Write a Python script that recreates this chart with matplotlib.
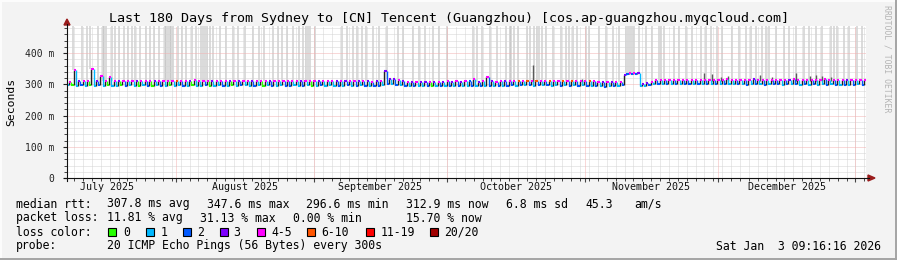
import numpy as np
import matplotlib
matplotlib.use("Agg")
import matplotlib.pyplot as plt
import matplotlib.transforms as mtrans
from matplotlib.collections import LineCollection
from matplotlib.patches import Rectangle, Polygon
from matplotlib.lines import Line2D
from datetime import datetime

W, H = 897, 260
start = datetime(2025, 7, 7, 9, 16, 16)   # 180 days before the stamp
n_days = 180

# median rtt per day (ms): low point and high point of each daily swing
med_lo = [297, 298, 296, 297, 295, 297, 296, 297, 296, 297,
          296, 295, 297, 296, 297, 295, 296, 297, 296, 295,
          297, 296, 295, 297, 296, 297, 296, 295, 297, 296,
          296, 297, 295, 296, 297, 296, 295, 297, 296, 297,
          297, 296, 295, 297, 296, 297, 296, 295, 297, 296,
          296, 297, 295, 296, 297, 296, 295, 297, 296, 297,
          296, 295, 296, 297, 295, 296, 297, 295, 296, 295,
          296, 297, 301, 300, 299, 297, 295, 294, 293, 294,
          293, 294, 295, 294, 293, 295, 296, 295, 294, 296,
          295, 296, 294, 295, 296, 295, 294, 296, 295, 296,
          297, 296, 297, 298, 297, 296, 297, 298, 297, 296,
          297, 296, 297, 296, 297, 296, 297, 296, 295, 294,
          293, 292, 294, 293, 295, 297, 333, 334, 333, 293,
          294, 297, 300, 300, 300, 301, 300, 301, 300, 301,
          300, 301, 300, 301, 300, 301, 300, 301, 300, 301,
          300, 301, 300, 299, 300, 301, 300, 299, 300, 301,
          300, 299, 300, 301, 300, 299, 300, 299, 300, 299,
          300, 299, 300, 299, 298, 299, 298, 299, 300, 299]
med_hi = [308, 345, 310, 309, 310, 349, 310, 326, 309, 323,
          310, 309, 311, 310, 309, 311, 310, 309, 310, 311,
          310, 311, 310, 309, 311, 310, 310, 311, 313, 310,
          310, 309, 311, 310, 310, 311, 309, 310, 311, 310,
          310, 311, 310, 309, 311, 310, 310, 311, 309, 310,
          311, 310, 310, 311, 309, 310, 311, 310, 310, 309,
          310, 309, 310, 309, 310, 309, 310, 309, 308, 309,
          309, 343, 316, 317, 315, 312, 308, 307, 307, 308,
          307, 308, 308, 307, 308, 309, 308, 309, 308, 309,
          309, 318, 308, 309, 322, 309, 308, 309, 310, 309,
          310, 311, 310, 311, 310, 311, 310, 311, 310, 311,
          310, 311, 310, 311, 310, 311, 310, 311, 309, 308,
          307, 306, 307, 308, 308, 330, 337, 337, 336, 300,
          304, 308, 313, 314, 315, 314, 315, 314, 315, 315,
          315, 314, 315, 315, 314, 315, 314, 315, 316, 315,
          315, 315, 314, 315, 316, 315, 314, 315, 314, 315,
          315, 314, 315, 316, 315, 314, 315, 314, 315, 314,
          316, 315, 314, 315, 314, 313, 314, 313, 314, 315]

# loss class per day (index into loss_colors) for low and high points
loss_lo = ("1012101210" "1102110120" "1210112101" "1201121012" "1121012112"
           "2112101211" "1212121212" "2121212121" "1201212121" "1212121212"
           "2121212121" "1212121212" "1212122221" "1212121212" "2121212121"
           "1212121212" "2121212121" "1212121212")
loss_hi = ("4434443444" "4344434443" "4444544344" "4434443434" "4344434444"
           "4434443444" "3434434343" "4333434343" "3434343434" "2434434434"
           "4545454454" "4545444544" "3434434433" "3444444444" "4444444444"
           "4444344444" "4434444444" "4444434444")

# days with smoke reaching above the chart
smoke_days = [1.3, 3.3, 4.6, 5.2, 6.9, 8.1, 8.4, 8.8, 10.1, 10.8, 11.7, 12.8,
              13.7, 14.6, 15.3, 16.4, 17.9, 18.8, 19.6, 20.7, 22.0, 22.4, 22.7,
              23.1, 23.4, 23.9, 25.0, 26.0, 26.9, 28.1, 29.0, 30.2, 30.6, 31.1,
              31.5, 32.2, 32.9, 34.4, 35.9, 37.4, 38.6, 40.1, 41.9, 43.2, 44.3,
              46.3, 47.5, 48.5, 49.5, 50.9, 52.2, 53.1, 53.8, 54.2, 54.7, 55.8,
              61.9, 63.0, 64.4, 65.3, 66.4, 67.3, 68.9, 70.4, 72.2, 74.5, 75.8,
              77.9, 79.4, 80.6, 82.4, 83.9, 85.5, 91.4, 92.3, 93.6, 95.2, 96.8,
              99.0, 99.7, 100.1, 100.8, 101.5, 103.7, 104.2, 105.3, 105.8,
              106.4, 107.1, 108.0, 109.4, 111.4, 112.5, 113.2, 113.9, 115.0,
              117.0, 117.7, 119.9, 121.5, 122.9, 124.4, 126.0, 126.4, 126.9,
              127.3, 127.8, 128.9, 130.5, 131.9, 133.4, 133.9, 134.6, 136.8,
              137.9, 139.5, 140.9, 142.9, 144.0, 145.1, 146.5, 147.6, 149.9,
              151.4, 153.0, 154.1, 155.3, 156.6, 157.5, 158.2, 159.8, 161.6,
              162.7, 164.3, 166.1, 167.2, 168.8, 170.1, 172.1, 172.8, 173.5,
              175.1, 176.2, 178.0, 179.1]
# darker smoke spikes: day and top (ms)
dark_days = [104.9, 116.1, 143.6, 145.2, 147.4, 148.8, 156.2, 158.9, 164.3,
             167.3, 168.8, 170.0, 172.1]
dark_top = [362, 318, 337, 334, 322, 325, 330, 324, 337, 326, 330, 327, 322]

loss_colors = ['#26ff00', '#00b8ff', '#0059ff', '#7e00ff', '#ff00ff',
               '#ff5500', '#ff0000', '#a10000']
loss_labels = ['0', '1', '2', '3', '4-5', '6-10', '11-19', '20/20']

mono = 'DejaVu Sans Mono'


def fx(x):
    return x / W


def fy(y):
    return 1 - y / H


def day_of(dt):
    return (dt - start).total_seconds() / 86400.0


fig = plt.figure(figsize=(W / 100, H / 100), dpi=100, facecolor='#f3f3f3')
ax = fig.add_axes([fx(67), fy(178), 799 / W, 152 / H])
ax.set_facecolor('white')
ax.set_xlim(0, n_days)
ax.set_ylim(0, 486.4)
for s in ax.spines.values():
    s.set_visible(False)

# grid
minor_c, major_c = '#d4d4d4', '#f2b2b2'
for v in range(20, 481, 20):
    if v % 100:
        ax.axhline(v, color=minor_c, lw=0.72, ls=(0, (1, 1)), zorder=3)
for v in range(100, 401, 100):
    ax.axhline(v, color=major_c, lw=0.72, ls=(0, (1, 1)), zorder=3.1)
epoch = datetime(1970, 1, 1)
first = datetime(2025, 7, 8)
if (first - epoch).days % 2:
    first = datetime(2025, 7, 9)
d = day_of(first)
minor_x = []
while d < n_days:
    minor_x.append(d)
    ax.axvline(d, color=minor_c, lw=0.72, ls=(0, (1, 1)), zorder=3)
    d += 2
month_starts = [datetime(2025, m, 1) for m in range(8, 13)] + [datetime(2026, 1, 1)]
for m in month_starts:
    ax.axvline(day_of(m), color=major_c, lw=0.72, ls=(0, (1, 1)), zorder=3.1)

# smoke
days = np.arange(n_days)
lo = np.array(med_lo, float)
hi = np.array(med_hi, float)
smoke_base = [hi[min(int(s), n_days - 1)] for s in smoke_days]
ax.vlines(smoke_days, smoke_base, 500, color='#b8b8b8', alpha=0.55,
          lw=1.3, zorder=2)
dark_base = [hi[min(int(s), n_days - 1)] - 4 for s in dark_days]
ax.vlines(dark_days, dark_base, dark_top, color='#5a5a5a', lw=1.0, zorder=4)

# median line
segs, cols = [], []
for i in days:
    segs.append([(i, lo[i]), (i + 0.5, lo[i])])
    cols.append(loss_colors[int(loss_lo[i])])
    segs.append([(i + 0.5, hi[i]), (i + 1, hi[i])])
    cols.append(loss_colors[int(loss_hi[i])])
ax.add_collection(LineCollection(segs, colors=cols, linewidths=1.5,
                                 capstyle='butt', zorder=6))
ax.vlines(days + 0.5, lo, hi, color='#222222', lw=1.0, zorder=5)
ax.vlines(days[1:], hi[:-1], lo[1:],
          color=[loss_colors[int(c)] for c in loss_lo[1:]], lw=1.0, zorder=5)

# ticks
ax.set_yticks(range(0, 401, 100))
ax.set_yticklabels(['0', '100 m', '200 m', '300 m', '400 m'])
ax.set_yticks(range(20, 481, 20), minor=True)
ax.set_xticks([day_of(m) for m in month_starts])
ax.set_xticklabels([])
ax.set_xticks(minor_x, minor=True)
ax.tick_params(axis='y', which='major', length=3, width=0.8, pad=6,
               labelsize=7, colors='#222222')
ax.tick_params(axis='y', which='minor', length=2, width=0.7, colors='#444444')
ax.tick_params(axis='x', which='major', length=3, width=0.8, colors='#444444')
ax.tick_params(axis='x', which='minor', length=2, width=0.7, colors='#444444')
for t in ax.get_yticklabels():
    t.set_fontfamily(mono)

months = [datetime(2025, m, 1) for m in range(7, 13)] + [datetime(2026, 1, 1)]
names = ['July 2025', 'August 2025', 'September 2025', 'October 2025',
         'November 2025', 'December 2025']
blend = mtrans.blended_transform_factory(ax.transData, fig.transFigure)
for k, nm in enumerate(names):
    mid = (day_of(months[k]) + day_of(months[k + 1])) / 2
    ax.text(mid, fy(187), nm, transform=blend, ha='center', va='center',
            fontsize=7.2, family=mono, color='#111111')

# axes with arrows
fig.add_artist(Line2D([fx(67), fx(67)], [fy(181), fy(24)], color='#111111', lw=0.8))
fig.add_artist(Line2D([fx(64), fx(869)], [fy(178), fy(178)], color='#111111', lw=0.8))
fig.add_artist(Polygon([(fx(64), fy(25)), (fx(70), fy(25)), (fx(67), fy(19))],
                       closed=True, color='#9a1c1c'))
fig.add_artist(Polygon([(fx(868), fy(175)), (fx(868), fy(181)), (fx(875), fy(178))],
                       closed=True, color='#9a1c1c'))

# titles
fig.text(0.5, fy(18.5), 'Last 180 Days from Sydney to [CN] Tencent (Guangzhou) '
         '[cos.ap-guangzhou.myqcloud.com]', ha='center', va='center',
         fontsize=9.6, family=mono)
fig.text(fx(11), fy(102), 'Seconds', rotation=90, ha='center', va='center',
         fontsize=8.2, family=mono)
fig.text(fx(887), fy(5), 'RRDTOOL / TOBI OETIKER', rotation=270, ha='center',
         va='top', fontsize=5.9, family=mono, color='#b4b4b4')

# legend rows
fs = 8.3
row1 = [(16, 'median rtt:'), (107, '307.8 ms avg'), (207, '347.6 ms max'),
        (307, '296.6 ms min'), (406, '312.9 ms now'), (506, '6.8 ms sd'),
        (586, '45.3'), (635, 'am/s')]
row2 = [(16, 'packet loss:'), (107, '11.81 % avg'), (200, '31.13 % max'),
        (293, '0.00 % min'), (406, '15.70 % now')]
for x, s in row1:
    fig.text(fx(x - 0.5), fy(204), s, ha='left', va='center', fontsize=fs, family=mono)
for x, s in row2:
    fig.text(fx(x - 0.5), fy(218), s, ha='left', va='center', fontsize=fs, family=mono)
fig.text(fx(15.5), fy(232), 'loss color:', ha='left', va='center', fontsize=fs, family=mono)
box_x = [108, 146, 183, 220, 257, 307, 366, 430]
lab_x = [124, 161, 198, 234, 272, 322, 381, 445]
for bx, lx, c, lab in zip(box_x, lab_x, loss_colors, loss_labels):
    fig.add_artist(Rectangle((fx(bx), fy(236)), 8 / W, 8 / H, facecolor=c,
                             edgecolor='black', lw=0.8))
    fig.text(fx(lx - 0.5), fy(232), lab, ha='left', va='center', fontsize=fs, family=mono)
fig.text(fx(15.5), fy(246), 'probe:', ha='left', va='center', fontsize=fs, family=mono)
fig.text(fx(106.5), fy(246), '20 ICMP Echo Pings (56 Bytes) every 300s',
         ha='left', va='center', fontsize=fs, family=mono)
fig.text(fx(881), fy(246), 'Sat Jan  3 09:16:16 2026', ha='right', va='center',
         fontsize=fs, family=mono)

# frame
fig.add_artist(Line2D([0, 1], [fy(0.5), fy(0.5)], color='#fdfdfd', lw=1.4))
fig.add_artist(Line2D([fx(0.5), fx(0.5)], [0, 1], color='#fdfdfd', lw=1.4))
fig.add_artist(Line2D([0, 1], [fy(259), fy(259)], color='#a4a4a4', lw=1.4))
fig.add_artist(Line2D([fx(896), fx(896)], [0, 1], color='#a4a4a4', lw=1.4))

fig.savefig('out.png', dpi=100, facecolor=fig.get_facecolor())
